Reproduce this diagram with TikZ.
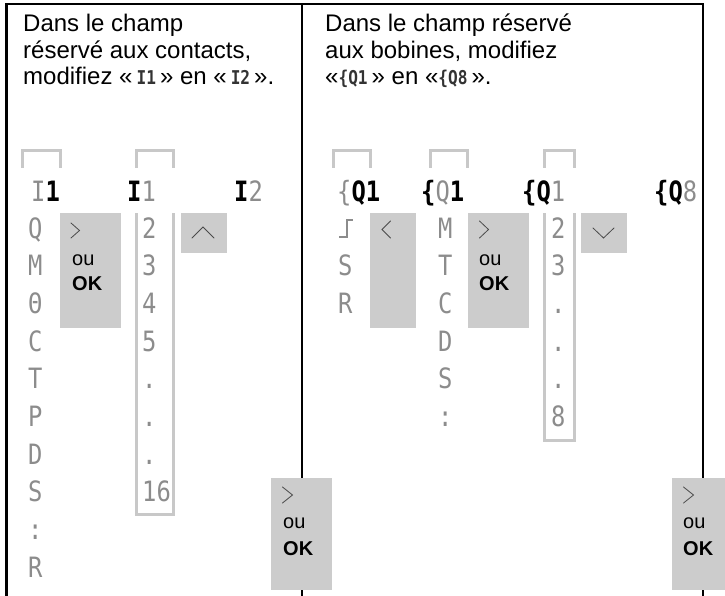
\documentclass[tikz,border=0pt]{standalone}
\usepackage{fontspec}
\usepackage{xcolor}
\usepackage{tikz}
\setmainfont{Liberation Sans}
\newfontfamily\lcdfam[FakeStretch=0.85]{DejaVu Sans Mono}
\definecolor{lcdgrey}{HTML}{8C8C8C}
\definecolor{keygrey}{HTML}{CCCCCC}
\definecolor{rimgrey}{HTML}{C8C8C8}
\definecolor{chevink}{HTML}{4A4A4A}
\newcommand{\lcdcur}[1]{{\mdseries\color{lcdgrey}#1}}
\newcommand{\hdlcd}{\fontsize{19}{19}\lcdfam\bfseries\color{black!80}}
\tikzset{fig/.style={line join=round,x=1pt,y=-1pt},
  headtxt/.style={anchor=base west,inner sep=0pt,font=\fontsize{24}{26}\selectfont},
  lcd/.style={anchor=base west,inner sep=0pt,font=\fontsize{28}{28}\lcdfam,text=lcdgrey},
  lcdon/.style={lcd,font=\fontsize{28}{28}\lcdfam\bfseries,text=black},
  keybox/.style={fill=keygrey},
  keytxt/.style={anchor=base west,inner sep=0pt,font=\fontsize{20}{20}\selectfont},
  chevron/.style={draw=chevink,line width=0.8pt,line cap=round,line join=miter},
  rimline/.style={draw=rimgrey,line width=3pt,line join=miter},
  blackrule/.style={draw=black,line width=2.7pt,line join=miter}}

\begin{document}
\begin{tikzpicture}[fig]
  \useasboundingbox (0,0) rectangle (725,596);
  % frame and divider
  \draw[blackrule] (6.5,596) |- (703,4) -- (703,596);
  \draw[blackrule] (302,4) -- (302,596);
  % headings
  \node[headtxt] (hl1) at (23,32) {Dans le champ};
  \node[headtxt] (hl2) at (23,58.5) {réservé aux contacts,};
  \node[headtxt] (hl3) at (23,85) {modifiez «\,{\hdlcd I1}\,» en «\,{\hdlcd I2}\,».};
  \node[headtxt] (hr1) at (325,32) {Dans le champ réservé};
  \node[headtxt] (hr2) at (325,58.5) {aux bobines, modifiez};
  \node[headtxt] (hr3) at (325,85) {«{\hdlcd \{Q1}\,» en «{\hdlcd \{Q8}\,».};
  % field brackets and list frames
  \draw[rimline] (22.5,168) |- (60.5,150.5) -- (60.5,168);
  \draw[rimline] (136,168) |- (173.5,150.5) -- (173.5,168);
  \draw[rimline] (136,213) |- (173.5,514) -- (173.5,213);
  \draw[rimline] (333.5,168) |- (370.5,150.5) -- (370.5,168);
  \draw[rimline] (430.5,168) |- (467.5,150.5) -- (467.5,168);
  \draw[rimline] (544,168) |- (574.5,150.5) -- (574.5,168);
  \draw[rimline] (544,213) |- (574.5,440) -- (574.5,213);
  % display lines, contacts
  \node[lcdon] (ia) at (31,201.5) {\lcdcur{I}1};
  \node[lcdon] (ib) at (127,201.5) {I\lcdcur{1}};
  \node[lcdon] (ic) at (234,201.5) {I\lcdcur{2}};
  \foreach \c [count=\k from 0] in {Q,M,Θ,C,T,P,D,S,:,R}
    \node[lcd] (ta\k) at (28,{238+37.7*\k}) {\c};
  \foreach \c [count=\k from 0] in {2,3,4,5,.,.,.,16}
    \node[lcd] (na\k) at (142,{238+37.7*\k}) {\c};
  % display lines, coils
  \node[lcdon] (qa) at (337,201.5) {\lcdcur{\{}Q1};
  \node[lcdon] (qb) at (421,201.5) {\{\lcdcur{Q}1};
  \node[lcdon] (qc) at (522,201.5) {\{Q\lcdcur{1}};
  \node[lcdon] (qd) at (654,201.5) {\{Q\lcdcur{8}};
  \draw[lcdgrey,line width=2.6pt,line join=miter] (339,237) -| (347,220) -- (353,220);
  \foreach \c [count=\k from 1] in {S,R}
    \node[lcd] (fb\k) at (338,{238+37.7*\k}) {\c};
  \foreach \c [count=\k from 0] in {M,T,C,D,S,:}
    \node[lcd] (tb\k) at (438,{238+37.7*\k}) {\c};
  \foreach \c [count=\k from 0] in {2,3,.,.,.,8}
    \node[lcd] (nb\k) at (551,{238+37.7*\k}) {\c};
  % keys, left panel
  \fill[keybox] (60,213) rectangle (120.7,328.3);
  \draw[chevron] (71,223) -- (79.5,230.5) -- (71,238);
  \node[keytxt] (oua) at (72,265) {ou};
  \node[keytxt] (oka) at (72,290) {\textbf{OK}};
  \fill[keybox] (181,213) rectangle (226.7,253);
  \draw[chevron] (192,238) -- (203,227) -- (214,238);
  \fill[keybox] (271,478) rectangle (332,590);
  \draw[chevron] (282.5,487) -- (292.5,495) -- (282.5,503);
  \node[keytxt] (oub) at (283,528) {ou};
  \node[keytxt] (okb) at (283,555) {\textbf{OK}};
  % keys, right panel
  \fill[keybox] (370,213) rectangle (416,328.3);
  \draw[chevron] (390.5,221) -- (382,229.5) -- (390.5,238);
  \fill[keybox] (468,213) rectangle (528.5,328.3);
  \draw[chevron] (479.5,221) -- (488.5,229.5) -- (479.5,238);
  \node[keytxt] (ouc) at (479,265) {ou};
  \node[keytxt] (okc) at (479,290) {\textbf{OK}};
  \fill[keybox] (581,213) rectangle (626.7,253);
  \draw[chevron] (593,228) -- (603.5,238) -- (614,228);
  \fill[keybox] (672.3,478) rectangle (725,590);
  \draw[chevron] (683.5,487) -- (693.5,495) -- (683.5,503);
  \node[keytxt] (oud) at (683,528) {ou};
  \node[keytxt] (okd) at (683,555) {\textbf{OK}};
\end{tikzpicture}
\end{document}
